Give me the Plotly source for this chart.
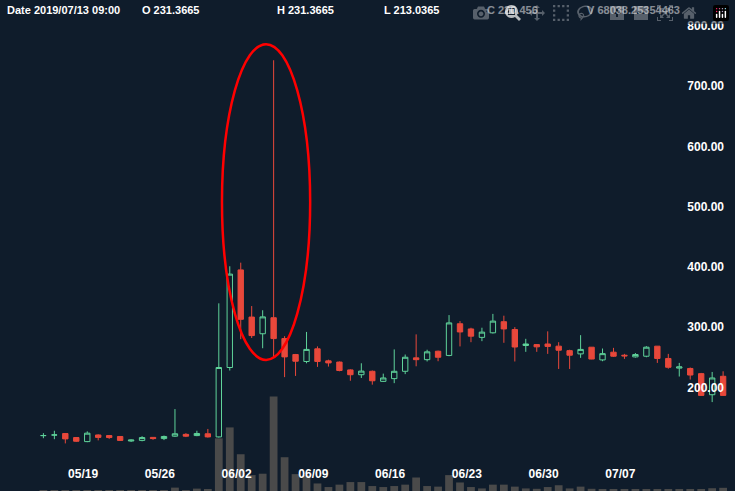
import pandas as pd
import plotly.graph_objects as go

# daily candles 2019-05-15 .. 2019-07-16
dates = pd.date_range("2019-05-15", periods=63, freq="D") + pd.Timedelta(hours=9)

opens = [120, 121, 123.4, 116.7, 110, 121, 120, 118.5, 111, 112, 117, 115, 119, 122, 120, 123,
         117.8, 233, 395, 316.7, 289, 315.6, 281, 254.5, 243, 264, 244, 242, 229, 221,
         226.7, 210, 214.5, 226.7, 249, 246, 260, 253, 305.6, 297, 283, 290.6, 309, 296,
         269.5, 271, 272, 268.4, 261, 255.6, 266.7, 245.6, 258.4, 253.4, 250.6, 251.7, 268.4,
         248, 232, 231.4, 222.8, 187.8, 218.4]
highs = [124, 128, 123.4, 117.5, 127, 122, 121, 119, 113.5, 119, 117.5, 120, 164, 124, 128, 131,
         339.5, 401, 407, 335, 328, 743, 285, 255.5, 292, 268, 246, 243, 230, 240,
         228, 222.8, 263, 254.5, 288, 262.5, 261, 320, 310, 299, 299, 322, 319, 300,
         280.6, 272, 293, 275, 262.5, 286.7, 267, 264.5, 265.6, 255.6, 257, 268.4, 268.4,
         255.6, 240.6, 233, 224, 225.6, 226.7]
lows = [115.6, 114, 107, 109.5, 109, 112, 114.5, 111, 109.5, 110.5, 113, 112.5, 117.8, 117.5, 119, 116.7,
        116.7, 228, 280, 282, 265, 249, 217, 219, 240, 234, 234.5, 226.7, 211, 215.6,
        204.5, 209, 207, 222, 235, 243, 243.4, 251.7, 268, 275, 276.7, 289.4, 274, 243,
        259, 259, 255.6, 230.6, 230.6, 249, 246.7, 243.4, 250.6, 247.3, 249.4, 250, 240.6,
        231, 218, 213, 186, 175.6, 186]
closes = [120, 121, 114.5, 110.6, 124, 117, 116.7, 112, 112.5, 116.7, 115, 118.5, 123, 119, 123.5, 117.8,
          233, 388, 313, 286, 317, 281, 250.6, 243.4, 263, 243, 240.6, 228, 221, 227,
          211, 215.6, 226.7, 250, 246, 259, 250, 307, 292, 285, 291.7, 310, 297, 267,
          272, 267.3, 268, 261.7, 253.4, 263, 247, 256, 251.7, 252.3, 254.5, 266.7, 248,
          233.4, 234, 220.5, 186.7, 215.6, 186.7]
# volume (thousands)
volumes = [20, 25, 50, 30, 20, 25, 20, 15, 20, 25, 30, 25, 170, 40, 120, 80,
           2650, 3200, 1850, 800, 870, 4750, 1700, 850, 800, 380, 200, 320, 450, 450,
           250, 200, 250, 320, 680, 250, 220, 800, 430, 200, 130, 320, 320, 220,
           130, 110, 200, 290, 130, 220, 110, 100, 80, 60, 80, 70, 60,
           60, 70, 68, 90, 140, 160]

tick_dates = ["2019-05-12", "2019-05-19", "2019-05-26", "2019-06-02",
              "2019-06-09", "2019-06-16", "2019-06-23", "2019-06-30", "2019-07-07"]
price_ticks = [200, 300, 400, 500, 600, 700, 800]

bg = "#0f1c2b"
green = "#5fd39a"
red = "#e8483b"

fig = go.Figure()
fig.add_trace(go.Bar(
    x=dates, y=volumes, yaxis="y2",
    marker=dict(color="#4a4a4a", line=dict(width=0)), width=17 * 3600 * 1000,
))
fig.add_trace(go.Candlestick(
    x=dates, open=opens, high=highs, low=lows, close=closes,
    increasing=dict(line=dict(color=green, width=1), fillcolor=bg),
    decreasing=dict(line=dict(color=red, width=1), fillcolor=red),
    whiskerwidth=0,
))

# hand-drawn red circle around the spike
fig.add_shape(type="circle", xref="paper", yref="paper",
              x0=0.302, x1=0.422, y0=0.267, y1=0.91,
              line=dict(color="#ff0000", width=2.5))

header = [("Date 2019/07/13 09:00", 5), ("O 231.3665", 140), ("H 231.3665", 275),
          ("L 213.0365", 382), ("C 220.456", 485), ("V 68038.25354463", 585)]
for txt, px in header:
    fig.add_annotation(text="<b>%s</b>" % txt, x=px / 735, y=1 - 10 / 491,
                       xref="paper", yref="paper", xanchor="left", yanchor="middle",
                       showarrow=False, font=dict(color="white", size=11))

fig.update_layout(
    width=735, height=491, margin=dict(l=0, r=0, t=0, b=0),
    paper_bgcolor=bg, plot_bgcolor=bg, showlegend=False,
    font=dict(family="Arial, Liberation Sans", color="white", size=12),
    xaxis=dict(range=[pd.Timestamp("2019-05-11 10:00"), pd.Timestamp("2019-07-17 11:00")],
               rangeslider=dict(visible=False), showgrid=False, zeroline=False,
               tickvals=tick_dates, tickformat="<b>%m/%d</b>",
               ticklabelposition="inside", ticklabelstandoff=8,
               tickfont=dict(size=12, color="white")),
    yaxis=dict(range=[28, 843], side="right", showgrid=False, zeroline=False,
               tickvals=price_ticks,
               ticktext=["<b>%.2f</b>" % v for v in price_ticks],
               ticklabelposition="inside", ticklabelstandoff=8,
               tickfont=dict(size=12, color="white")),
    yaxis2=dict(overlaying="y", range=[0, 4750 * 489 / 94], visible=False),
)

fig.write_html("out.html", post_script="document.body.style.margin='0';")
